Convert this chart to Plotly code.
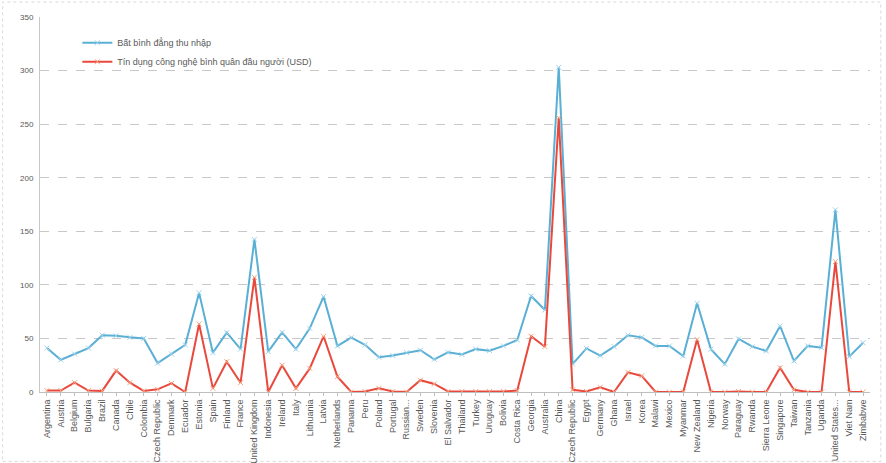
import plotly.graph_objects as go

countries = ["Argentina", "Austria", "Belgium", "Bulgaria", "Brazil", "Canada", "Chile", "Colombia",
             "Czech Republic", "Denmark", "Ecuador", "Estonia", "Spain", "Finland", "France",
             "United Kingdom", "Indonesia", "Ireland", "Italy", "Lithuania", "Latvia", "Netherlands",
             "Panama", "Peru", "Poland", "Portugal", "Russian...", "Sweden", "Slovenia", "El Salvador",
             "Thailand", "Turkey", "Uruguay", "Bolivia", "Costa Rica", "Georgia", "Australia", "China",
             "Czech Republic", "Egypt", "Germany", "Ghana", "Israel", "Korea", "Malawi", "Mexico",
             "Myanmar", "New Zealand", "Nigeria", "Norway", "Paraguay", "Rwanda", "Sierra Leone",
             "Singapore", "Taiwan", "Tanzania", "Uganda", "United States...", "Viet Nam", "Zimbabwe"]

inequality = [41, 30, 35.5, 41, 53, 52.5, 51, 50, 27, 35.5, 44, 92.5, 36.7, 55.4, 40,
              142.5, 37.7, 55.7, 40, 59.4, 89, 43, 50.7, 44, 32.4, 34, 36.7, 39, 30.5, 37,
              35, 40, 38.6, 43, 48.5, 89.6, 76.5, 303, 26, 40.7, 34, 42.3, 53, 51, 43, 43,
              33.6, 82.8, 40, 26, 49.5, 42.3, 38.3, 61.6, 29, 43, 41.4, 170, 33, 46]

tech_credit = [1.3, 1.3, 8.7, 1.3, 1, 20, 8.7, 1, 2.5, 8, 0, 63.5, 3.4, 28.3, 8.7,
               107, 0, 25, 3.4, 22, 52, 14.3, 0, 0.5, 3.4, 0.5, 0, 11, 7.5, 0.5,
               0.5, 0.5, 0.5, 0.5, 1.3, 52, 42.3, 256, 2, 0.5, 4.4, 0, 18.3, 15, 0, 0,
               0, 49, 0, 0, 0.5, 0, 0, 22.7, 2, 0, 0, 121.7, 0, 0]

series_names = ["Bất bình đẳng thu nhập", "Tín dụng công nghệ bình quân đầu người (USD)"]

x = list(range(len(countries)))

fig = go.Figure()
fig.add_trace(go.Scatter(
    x=x, y=inequality, name=series_names[0], mode="lines+markers",
    line=dict(color="#5AAFD5", width=2),
    marker=dict(symbol="x-thin", size=5, line=dict(color="#9FD3EA", width=1), color="#9FD3EA"),
))
fig.add_trace(go.Scatter(
    x=x, y=tech_credit, name=series_names[1], mode="lines+markers",
    line=dict(color="#E9493D", width=2),
    marker=dict(symbol="x-thin", size=5, line=dict(color="#F4A582", width=1), color="#F4A582"),
))

fig.update_layout(
    width=886, height=463,
    margin=dict(l=40, r=16, t=17, b=71),
    paper_bgcolor="white", plot_bgcolor="white",
    font=dict(family="Liberation Sans Narrow, Liberation Sans, Arial, sans-serif", size=8, color="#595959"),
    showlegend=True,
    legend=dict(x=0.045, y=0.97, xanchor="left", yanchor="top",
                bgcolor="rgba(0,0,0,0)", font=dict(family="Liberation Sans, Arial, sans-serif", size=9, color="#595959"),
                itemwidth=30, tracegroupgap=2),
    xaxis=dict(
        range=[-0.5, len(countries) - 0.5], automargin=False,
        tickmode="array", tickvals=x, ticktext=countries, tickangle=-90,
        tickfont=dict(size=9, color="#595959"),
        showgrid=False, zeroline=False,
        showline=True, linecolor="#BFBFBF", linewidth=1,
        ticks="outside", ticklen=3, tickcolor="#BFBFBF",
    ),
    yaxis=dict(
        range=[0, 350], tickmode="linear", dtick=50, tick0=0, automargin=False,
        tickfont=dict(family="Liberation Sans, Arial, sans-serif", size=8, color="#595959"),
        showgrid=True, gridcolor="#C8C8C8", griddash="dash", gridwidth=1,
        zeroline=False, showline=True, linecolor="#C8C8C8", linewidth=1,
        ticks="", ticklabelstandoff=4,
    ),
)

fig.add_shape(type="rect", xref="paper", yref="paper",
              x0=-0.045, x1=1.013, y0=-0.185, y1=1.04,
              line=dict(color="#D9D9D9", width=1, dash="dot"), layer="below")

fig.write_html("out.html")
